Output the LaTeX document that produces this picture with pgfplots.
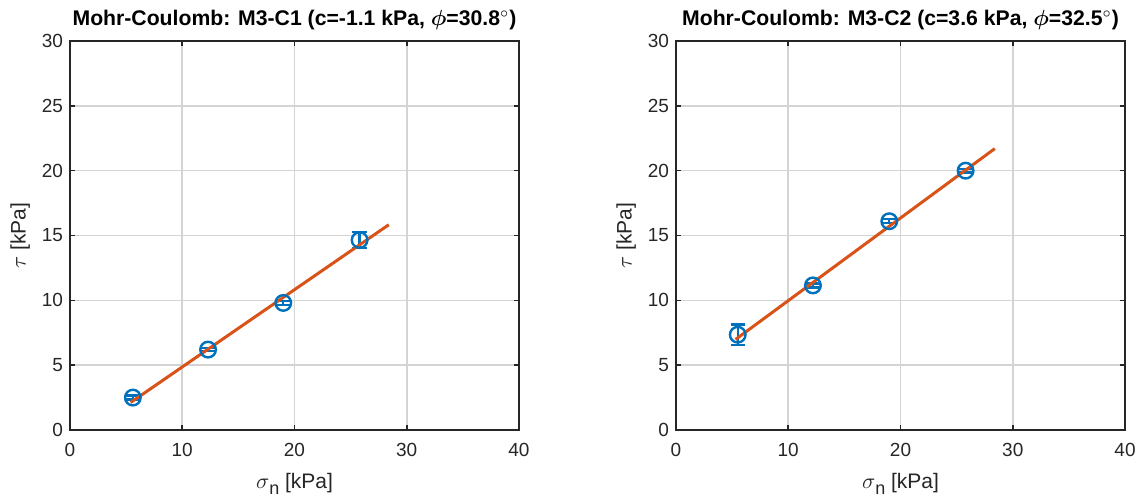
\documentclass[border=0pt]{standalone}
\usepackage{pgfplots}
\pgfplotsset{compat=1.18}
\usepackage{fontspec}
\usepackage{bm}
\setmainfont{Liberation Sans}
\definecolor{mblue}{rgb}{0,0.447,0.741}
\definecolor{morange}{rgb}{0.85,0.325,0.098}
\definecolor{axgray}{rgb}{0.15,0.15,0.15}
\pgfplotsset{
  mc/.style={
    scale only axis, width=224.5pt, height=194.5pt,
    xmin=0, xmax=40, ymin=0, ymax=30,
    xtick={0,10,...,40}, ytick={0,5,...,30},
    grid=major, major grid style={color=black!17, line width=0.8pt},
    axis line style={color=axgray, line width=0.9pt},
    tick style={color=axgray, line width=0.8pt},
    major tick length=2.5pt, tick align=inside,
    xtick pos=both, ytick pos=both,
    tick label style={font=\fontsize{9.5}{11}\selectfont, color=axgray},
    /pgf/number format/assume math mode=true,
    xticklabel style={yshift=-3pt},
    yticklabel style={xshift=0pt},
    label style={font=\fontsize{10.5}{12}\selectfont, color=axgray},
    xlabel={$\sigma$\raisebox{-0.5ex}{\fontsize{9}{10}\selectfont n} [kPa]},
    ylabel={$\tau$ [kPa]},
    xlabel style={yshift=-1.5pt},
    ylabel style={yshift=-1pt},
    title style={font=\bfseries\fontsize{10.6}{12}\selectfont, yshift=-4pt},
  },
  pts/.style={mblue, line width=1.2pt, mark=o, mark size=3.9pt,
    only marks, mark options={line width=1.2pt},
    error bars/.cd, y dir=both, y explicit,
    error bar style={line width=1.2pt, mblue},
    error mark options={rotate=90, mark size=3.6pt, line width=1.2pt, mblue}},
  fit/.style={morange, line width=1.5pt, no marks},
}
\begin{document}
\begin{tikzpicture}
\begin{axis}[mc, at={(0pt,0pt)}, anchor=south west,
  title={Mohr-Coulomb: M3-C1 (c=-1.1 kPa, $\bm{\phi}$=30.8$^\circ$)}]
\addplot[pts] table[x=x, y=y, y error=e] {
x y e
5.6 2.5 0.15
12.3 6.2 0.12
19.0 9.8 0.15
25.8 14.65 0.6
};
\addplot[fit] coordinates {(5.4,2.12) (28.4,15.83)};
\end{axis}
\begin{axis}[mc, at={(303pt,0pt)}, anchor=south west,
  title={Mohr-Coulomb: M3-C2 (c=3.6 kPa, $\bm{\phi}$=32.5$^\circ$)}]
\addplot[pts] table[x=x, y=y, y error=e] {
x y e
5.5 7.35 0.8
12.2 11.15 0.15
19.0 16.1 0.15
25.8 20.0 0.15
};
\addplot[fit] coordinates {(5.3,6.98) (28.4,21.7)};
\end{axis}
\pgfresetboundingbox
\useasboundingbox (-35pt,-36.5pt) rectangle (533.5pt,215pt);
\end{tikzpicture}
\end{document}
